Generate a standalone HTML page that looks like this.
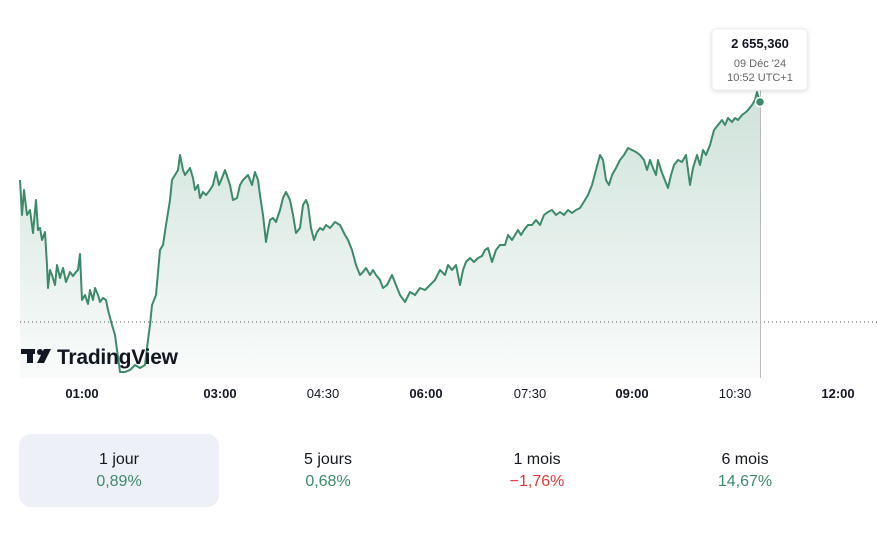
<!DOCTYPE html><html><head><style>
body{margin:0;width:877px;height:538px;background:#fff;font-family:"Liberation Sans",sans-serif;position:relative;overflow:hidden}
.t{position:absolute;font-size:13px;color:#131722;transform:translateX(-50%);top:386px}
.b{font-weight:bold}
.c{position:absolute;top:434px;height:73px;text-align:center;width:200px;font-size:16px}
.c div:first-child{margin-top:17px;color:#131722}
.c div:last-child{margin-top:4px;color:#3d8a6a}
</style></head><body>
<svg width="877" height="400" style="position:absolute;left:0;top:0">
<defs><linearGradient id="g" x1="0" y1="0" x2="0" y2="1"><stop offset="0" stop-color="#3d8a6a" stop-opacity="0.25"/><stop offset="1" stop-color="#3d8a6a" stop-opacity="0.03"/></linearGradient></defs>
<polygon fill="url(#g)" points="20,378 20,180 22,215 24,190 27,215 30,210 33,233 36,200 38,230 40,228 42,240 45,232 47,265 48,288 50,270 52,275 55,285 57,265 60,278 63,268 66,282 70,272 73,276 76,272 78,270 80,254 82,300 85,295 88,304 90,290 93,300 95,288 98,295 100,302 103,298 106,300 108,310 112,325 115,335 117,350 120,372 125,372 130,370 135,365 140,368 145,365 148,340 150,325 152,305 156,295 160,250 163,245 166,225 170,200 172,180 175,175 178,170 180,155 183,170 185,175 190,168 193,178 195,190 198,185 200,198 203,192 206,195 210,190 213,185 216,172 219,185 222,178 225,170 230,185 233,200 237,198 240,185 243,180 248,175 252,185 255,172 258,180 260,195 263,215 266,242 268,230 270,220 273,218 276,222 280,210 283,198 286,192 290,200 293,215 296,233 300,228 303,205 306,200 308,205 311,228 314,240 317,232 320,228 323,230 326,225 330,228 335,222 340,225 345,235 348,240 352,250 356,265 360,275 363,272 366,268 370,275 373,270 376,275 380,280 383,288 387,285 392,275 396,285 400,295 405,302 410,292 415,295 420,288 425,290 430,285 435,280 440,270 445,275 448,265 452,270 456,265 460,285 463,270 466,262 470,258 474,262 478,258 482,256 485,250 488,248 492,262 496,250 500,245 505,245 508,235 512,240 515,235 518,230 521,235 524,230 528,225 532,225 536,220 540,225 544,215 548,212 552,210 556,215 560,212 564,215 568,210 572,213 576,210 580,208 585,200 588,195 592,185 596,170 600,155 603,160 606,180 609,185 612,175 616,168 620,160 624,155 628,148 632,150 636,152 640,155 644,160 647,170 650,160 653,168 656,175 658,160 661,170 664,178 668,188 671,175 674,165 678,160 682,162 686,155 690,185 693,168 697,155 700,165 703,150 706,155 710,145 714,130 718,125 722,120 725,125 728,118 732,122 735,118 738,120 742,115 746,112 748,110 752,105 755,100 757,92 760,102 760,378"/>
<polyline fill="none" stroke="#3d8a6a" stroke-width="2" stroke-linejoin="round" points="20,180 22,215 24,190 27,215 30,210 33,233 36,200 38,230 40,228 42,240 45,232 47,265 48,288 50,270 52,275 55,285 57,265 60,278 63,268 66,282 70,272 73,276 76,272 78,270 80,254 82,300 85,295 88,304 90,290 93,300 95,288 98,295 100,302 103,298 106,300 108,310 112,325 115,335 117,350 120,372 125,372 130,370 135,365 140,368 145,365 148,340 150,325 152,305 156,295 160,250 163,245 166,225 170,200 172,180 175,175 178,170 180,155 183,170 185,175 190,168 193,178 195,190 198,185 200,198 203,192 206,195 210,190 213,185 216,172 219,185 222,178 225,170 230,185 233,200 237,198 240,185 243,180 248,175 252,185 255,172 258,180 260,195 263,215 266,242 268,230 270,220 273,218 276,222 280,210 283,198 286,192 290,200 293,215 296,233 300,228 303,205 306,200 308,205 311,228 314,240 317,232 320,228 323,230 326,225 330,228 335,222 340,225 345,235 348,240 352,250 356,265 360,275 363,272 366,268 370,275 373,270 376,275 380,280 383,288 387,285 392,275 396,285 400,295 405,302 410,292 415,295 420,288 425,290 430,285 435,280 440,270 445,275 448,265 452,270 456,265 460,285 463,270 466,262 470,258 474,262 478,258 482,256 485,250 488,248 492,262 496,250 500,245 505,245 508,235 512,240 515,235 518,230 521,235 524,230 528,225 532,225 536,220 540,225 544,215 548,212 552,210 556,215 560,212 564,215 568,210 572,213 576,210 580,208 585,200 588,195 592,185 596,170 600,155 603,160 606,180 609,185 612,175 616,168 620,160 624,155 628,148 632,150 636,152 640,155 644,160 647,170 650,160 653,168 656,175 658,160 661,170 664,178 668,188 671,175 674,165 678,160 682,162 686,155 690,185 693,168 697,155 700,165 703,150 706,155 710,145 714,130 718,125 722,120 725,125 728,118 732,122 735,118 738,120 742,115 746,112 748,110 752,105 755,100 757,92 760,102"/>
<line x1="20" y1="322" x2="877" y2="322" stroke="#555" stroke-width="1" stroke-dasharray="1,3"/>
<line x1="760.5" y1="90" x2="760.5" y2="378" stroke="#bbb" stroke-width="1"/>
<circle cx="760" cy="102" r="4.5" fill="#3d8a6a" stroke="#fff" stroke-width="1.5"/>
<rect x="712" y="29" width="95" height="61" rx="4" fill="#fff" stroke="#eee" style="filter:drop-shadow(0 1px 2px rgba(0,0,0,.15))"/>
<text x="760" y="48" text-anchor="middle" font-size="13" font-weight="bold" fill="#131722">2 655,360</text>
<text x="760" y="67" text-anchor="middle" font-size="11" fill="#666">09 Déc '24</text>
<text x="760" y="81" text-anchor="middle" font-size="11" fill="#666">10:52 UTC+1</text>
<g fill="#131722"><rect x="21" y="349" width="14" height="5"/><rect x="27" y="349" width="6" height="14"/><circle cx="40" cy="352" r="3"/><polygon points="44,349 51,349 44,363 37,363"/></g>
<text x="57" y="364" font-size="21" font-weight="bold" fill="#131722" textLength="121">TradingView</text>
</svg>
<div class="t b" style="left:82px">01:00</div>
<div class="t b" style="left:220px">03:00</div>
<div class="t" style="left:323px">04:30</div>
<div class="t b" style="left:426px">06:00</div>
<div class="t" style="left:530px">07:30</div>
<div class="t b" style="left:632px">09:00</div>
<div class="t" style="left:735px">10:30</div>
<div class="t b" style="left:838px">12:00</div>
<div class="c" style="left:19px;background:#eef0f7;border-radius:12px"><div>1 jour</div><div>0,89%</div></div>
<div class="c" style="left:228px"><div>5 jours</div><div>0,68%</div></div>
<div class="c" style="left:437px"><div>1 mois</div><div style="color:#e03b3b">−1,76%</div></div>
<div class="c" style="left:645px"><div>6 mois</div><div>14,67%</div></div>
</body></html>
